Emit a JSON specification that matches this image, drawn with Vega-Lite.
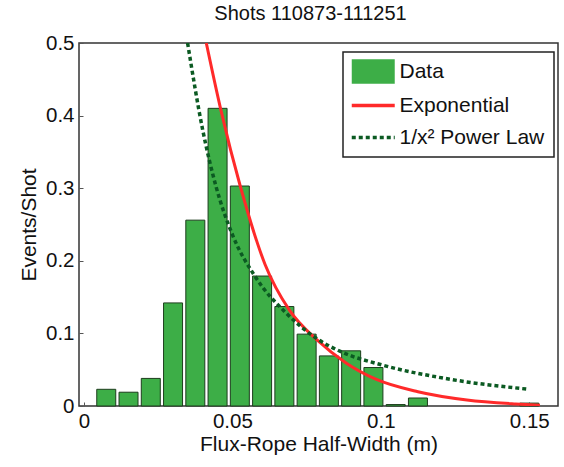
{
  "$schema": "https://vega.github.io/schema/vega-lite/v6.json",
  "autosize": "none",
  "width": 479,
  "height": 363,
  "padding": {"left": 79, "top": 43, "right": 6, "bottom": 61},
  "background": "white",
  "config": {
    "font": "Liberation Sans",
    "view": {"stroke": "#333", "strokeWidth": 1.5},
    "axis": {"labelFontSize": 20.5, "titleFontSize": 21, "labelColor": "#111", "titleColor": "#111", "titleFontWeight": "normal", "grid": false, "domain": false, "tickColor": "#555", "tickSize": -4, "tickWidth": 1},
    "legend": {
      "orient": "none", "legendX": 264, "legendY": 9,
      "fillColor": "white", "strokeColor": "#222", "padding": 9,
      "labelFontSize": 21, "labelColor": "#111", "labelOffset": 26.5, "rowPadding": 10,
      "symbolSize": 462
    }
  },
  "title": {"text": "Shots 110873-111251", "fontSize": 20, "fontWeight": "normal", "color": "#111", "offset": 9, "anchor": "middle", "dx": -8},
  "datasets": {
    "bars": [
      {"width_m": 0.0075, "events": 0.023},
      {"width_m": 0.015, "events": 0.019},
      {"width_m": 0.0225, "events": 0.038},
      {"width_m": 0.03, "events": 0.142},
      {"width_m": 0.0375, "events": 0.256},
      {"width_m": 0.045, "events": 0.41},
      {"width_m": 0.0525, "events": 0.303},
      {"width_m": 0.06, "events": 0.179},
      {"width_m": 0.0675, "events": 0.137},
      {"width_m": 0.075, "events": 0.099},
      {"width_m": 0.0825, "events": 0.069},
      {"width_m": 0.09, "events": 0.076},
      {"width_m": 0.0975, "events": 0.053},
      {"width_m": 0.105, "events": 0.002},
      {"width_m": 0.1125, "events": 0.011},
      {"width_m": 0.15, "events": 0.004}
    ],
    "exponential": [
      {"width_m": 0.0412, "events": 0.5},
      {"width_m": 0.0461, "events": 0.408},
      {"width_m": 0.0527, "events": 0.302},
      {"width_m": 0.061, "events": 0.195},
      {"width_m": 0.0692, "events": 0.132},
      {"width_m": 0.0785, "events": 0.091},
      {"width_m": 0.0884, "events": 0.059},
      {"width_m": 0.0983, "events": 0.037},
      {"width_m": 0.1125, "events": 0.0197},
      {"width_m": 0.129, "events": 0.0083},
      {"width_m": 0.1454, "events": 0.0028},
      {"width_m": 0.1536, "events": 0.001}
    ],
    "powerlaw": [
      {"width_m": 0.0349, "events": 0.5},
      {"width_m": 0.04, "events": 0.38},
      {"width_m": 0.0445, "events": 0.302},
      {"width_m": 0.05, "events": 0.236},
      {"width_m": 0.0577, "events": 0.178},
      {"width_m": 0.0681, "events": 0.128},
      {"width_m": 0.078, "events": 0.094},
      {"width_m": 0.0873, "events": 0.0735},
      {"width_m": 0.1004, "events": 0.0565},
      {"width_m": 0.1235, "events": 0.0367},
      {"width_m": 0.1498, "events": 0.023}
    ]
  },
  "encoding": {
    "x": {"field": "width_m", "type": "quantitative", "title": "Flux-Rope Half-Width (m)",
      "scale": {"domain": [0, 0.158], "nice": false, "zero": true},
      "axis": {"values": [0, 0.05, 0.1, 0.15], "format": "~g", "labelPadding": 9, "titlePadding": 2, "labelFlush": false}},
    "y": {"field": "events", "type": "quantitative", "title": "Events/Shot",
      "scale": {"domain": [0, 0.5], "nice": false},
      "axis": {"values": [0, 0.1, 0.2, 0.3, 0.4, 0.5], "format": "~g", "labelPadding": 9, "titlePadding": 6, "labelFlush": false}}
  },
  "layer": [
    {
      "data": {"name": "bars"},
      "mark": {"type": "bar", "width": 19, "stroke": "#1d3d1d", "strokeWidth": 1},
      "encoding": {
        "color": {"datum": "Data", "type": "nominal",
          "scale": {"domain": ["Data", "Exponential", "1/x² Power Law"], "range": ["#3dae47", "#ff2a2a", "#0b5a22"]},
          "legend": {
            "title": null,
            "encode": {
              "legend": {"update": {"strokeWidth": {"value": 1.5}}},
              "symbols": {"update": {
                "shape": {"signal": "datum.value === 'Data' ? 'M-1,-1.15H3V1.15H-1Z' : 'M-1,0H3'"},
                "fill": {"signal": "datum.value === 'Data' ? '#3dae47' : 'transparent'"},
                "stroke": {"signal": "datum.value === 'Data' ? '#3dae47' : (datum.value === 'Exponential' ? '#ff2a2a' : '#0b5a22')"},
                "strokeWidth": {"signal": "datum.value === 'Data' ? 0 : 3.5"},
                "strokeDash": {"signal": "datum.value === '1/x² Power Law' ? [4, 3] : [1, 0]"},
                "opacity": {"value": 1}
              }}
            }
          }}
      }
    },
    {
      "data": {"name": "exponential"},
      "mark": {"type": "line", "strokeWidth": 3, "interpolate": "monotone", "clip": true},
      "encoding": {"color": {"datum": "Exponential", "type": "nominal",
          "legend": {
            "title": null,
            "encode": {
              "legend": {"update": {"strokeWidth": {"value": 1.5}}},
              "symbols": {"update": {
                "shape": {"signal": "datum.value === 'Data' ? 'M-1,-1.15H3V1.15H-1Z' : 'M-1,0H3'"},
                "fill": {"signal": "datum.value === 'Data' ? '#3dae47' : 'transparent'"},
                "stroke": {"signal": "datum.value === 'Data' ? '#3dae47' : (datum.value === 'Exponential' ? '#ff2a2a' : '#0b5a22')"},
                "strokeWidth": {"signal": "datum.value === 'Data' ? 0 : 3.5"},
                "strokeDash": {"signal": "datum.value === '1/x² Power Law' ? [4, 3] : [1, 0]"},
                "opacity": {"value": 1}
              }}
            }
          }}}
    },
    {
      "data": {"name": "powerlaw"},
      "mark": {"type": "line", "strokeWidth": 3.5, "strokeDash": [4, 3], "interpolate": "monotone", "clip": true},
      "encoding": {"color": {"datum": "1/x² Power Law", "type": "nominal",
          "legend": {
            "title": null,
            "encode": {
              "legend": {"update": {"strokeWidth": {"value": 1.5}}},
              "symbols": {"update": {
                "shape": {"signal": "datum.value === 'Data' ? 'M-1,-1.15H3V1.15H-1Z' : 'M-1,0H3'"},
                "fill": {"signal": "datum.value === 'Data' ? '#3dae47' : 'transparent'"},
                "stroke": {"signal": "datum.value === 'Data' ? '#3dae47' : (datum.value === 'Exponential' ? '#ff2a2a' : '#0b5a22')"},
                "strokeWidth": {"signal": "datum.value === 'Data' ? 0 : 3.5"},
                "strokeDash": {"signal": "datum.value === '1/x² Power Law' ? [4, 3] : [1, 0]"},
                "opacity": {"value": 1}
              }}
            }
          }}}
    }
  ]
}
